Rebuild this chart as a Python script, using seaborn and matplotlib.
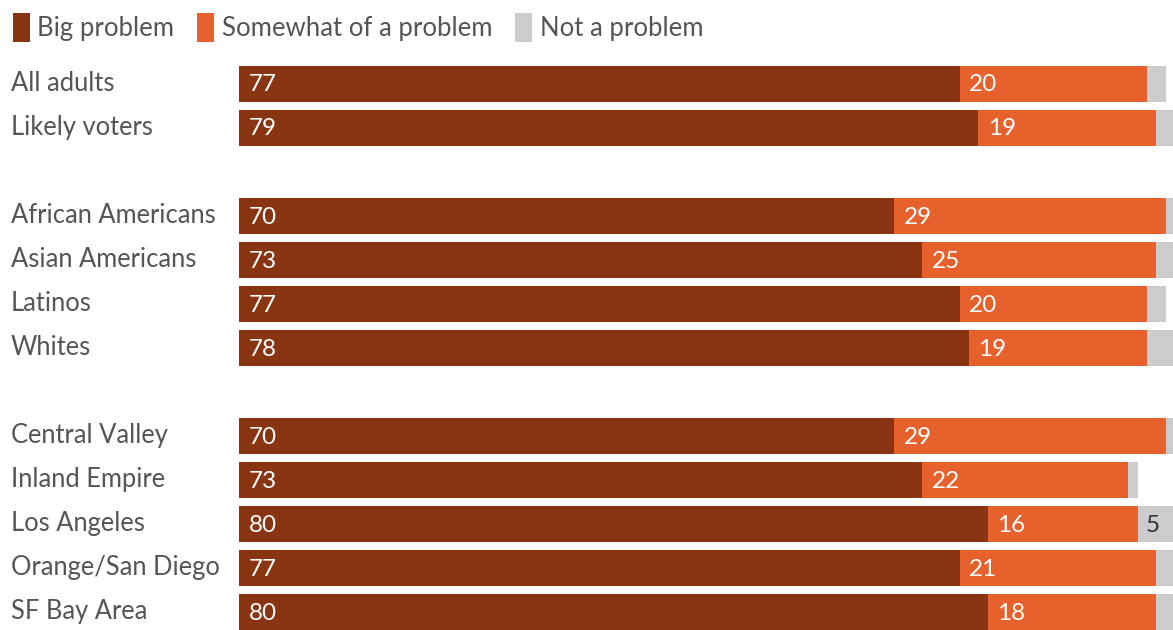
import numpy as np
import pandas as pd
import matplotlib
matplotlib.use("Agg")
import matplotlib.pyplot as plt
import matplotlib.transforms as mtransforms
from matplotlib.patches import Patch
import seaborn as sns

groups = ["All adults", "Likely voters",
          "African Americans", "Asian Americans", "Latinos", "Whites",
          "Central Valley", "Inland Empire", "Los Angeles", "Orange/San Diego", "SF Bay Area"]
big_problem = [77, 79, 70, 73, 77, 78, 70, 73, 80, 77, 80]
somewhat = [20, 19, 29, 25, 20, 19, 29, 22, 16, 21, 18]
not_problem = [2, 2, 1, 2, 2, 3, 1, 1, 5, 2, 2]
series = ["Big problem", "Somewhat of a problem", "Not a problem"]

# row slots, with an empty slot between the three blocks
rows = [0, 1, 3, 4, 5, 6, 8, 9, 10, 11, 12]

C_BIG = "#8A3511"
C_SOME = "#E6612B"
C_NOT = "#CCCCCC"
TXT = "#555555"

df = pd.DataFrame({"group": groups, "row": rows, "big": big_problem,
                   "some": somewhat, "not": not_problem})
df["cum2"] = df["big"] + df["some"]
df["cum3"] = df["cum2"] + df["not"]

sns.set_style("white")
plt.rcParams["font.family"] = ["Lato", "DejaVu Sans"]

fig = plt.figure(figsize=(11.73, 6.3), dpi=100)
ax = fig.add_axes([239 / 1173, 0, 1 - 239 / 1173, 1])

# layered cumulative bars
for col, color in [("cum3", C_NOT), ("cum2", C_SOME), ("big", C_BIG)]:
    sns.barplot(data=df, x=col, y="row", orient="h", native_scale=True,
                color=color, width=0.82, saturation=1, linewidth=0, ax=ax)

ax.set_xlim(0, 934 / 9.36)
ax.set_ylim(12.4, -84 / 44)
ax.axis("off")

fs = 17.5
for _, r in df.iterrows():
    ax.text(1.05, r["row"] + 0.02, f"{r['big']}", color="white", fontsize=fs,
            va="center", ha="left")
    ax.text(r["big"] + 1.0, r["row"] + 0.02, f"{r['some']}", color="white", fontsize=fs,
            va="center", ha="left")
    if r["not"] >= 5:
        ax.text(r["cum2"] + 0.9, r["row"] + 0.02, f"{r['not']}", color="#333333", fontsize=fs,
                va="center", ha="left")

trans = mtransforms.blended_transform_factory(fig.transFigure, ax.transData)
for _, r in df.iterrows():
    ax.text(11 / 1173, r["row"] - 0.02, r["group"], color=TXT, fontsize=18.4,
            va="center", ha="left", transform=trans)

handles = [Patch(facecolor=c, edgecolor="none") for c in [C_BIG, C_SOME, C_NOT]]
fig.legend(handles, series, loc="upper left", bbox_to_anchor=(0.0, 1.0),
           ncol=3, frameon=False, fontsize=18.5, labelcolor=TXT,
           handlelength=0.65, handleheight=1.35, handletextpad=0.3,
           columnspacing=0.9, borderaxespad=0.3, borderpad=0.2)

fig.savefig("out.png", dpi=100)
